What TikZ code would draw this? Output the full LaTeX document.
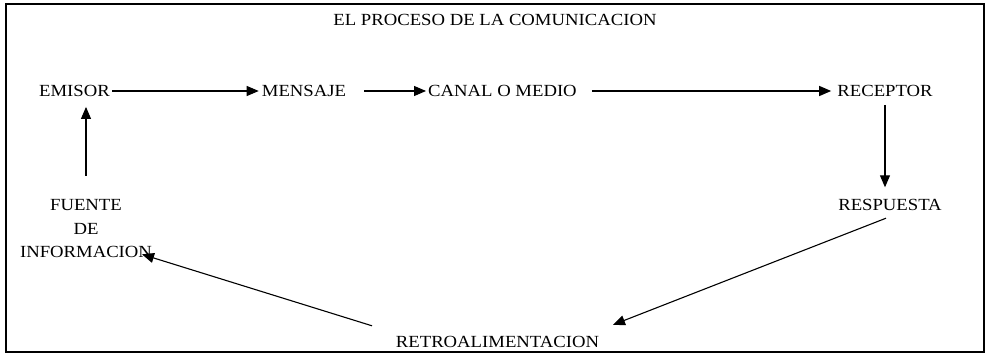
\documentclass[tikz,border=0pt]{standalone}
\usepackage{fontspec}
\setmainfont{Liberation Serif}[FakeStretch=1.1]
\usetikzlibrary{arrows.meta,positioning}
\tikzset{
  etiqueta/.style={inner sep=0pt,font=\fontsize{17}{23.5}\selectfont,text height=11.5pt,text depth=0pt},
  bloque/.style={inner sep=0pt,font=\fontsize{17}{23.5}\selectfont,align=center},
  flecha/.style={line width=1.1pt,-{Triangle[length=12pt,width=10pt]}}
}
\begin{document}
\begin{tikzpicture}[x=1pt,y=-1pt]
\useasboundingbox (0,0) rectangle (988,355);
\draw[line width=1.5pt] (6,4) rectangle (984,352);
\node[etiqueta] (titulo) at (495,20.25) {EL PROCESO DE LA COMUNICACION};
% fila de arriba
\node[etiqueta] (emisor) at (74.5,91) {EMISOR};
\node[etiqueta] (mensaje) at (304,91) {MENSAJE};
\node[etiqueta] (canal) at (502.5,91) {CANAL O MEDIO};
\node[etiqueta] (receptor) at (885,91) {RECEPTOR};
% abajo
\node[etiqueta] (respuesta) at (890,205.25) {RESPUESTA};
\node[etiqueta] (retro) at (497.5,342.25) {RETROALIMENTACION};
\node[bloque] (fuente) at (86,229) {FUENTE\\DE\\INFORMACION};
\draw[flecha,shorten <=2pt,shorten >=3pt] (emisor) -- (mensaje);
\draw[flecha,shorten <=18pt,shorten >=2pt] (mensaje) -- (canal);
\draw[flecha,shorten <=15pt,shorten >=6pt] (canal) -- (receptor);
\draw[flecha,shorten <=8pt,shorten >=12pt] (receptor.south) -- (receptor.south |- respuesta.north);
\draw[flecha] ([xshift=-4pt,yshift=-7pt]respuesta.south) -- ([xshift=115.5pt,yshift=11.5pt]retro.north);
\draw[flecha] ([xshift=-125.5pt,yshift=10.5pt]retro.north) -- ([xshift=56pt,yshift=4pt]fuente.south);
\draw[flecha,shorten <=24pt,shorten >=10pt] (fuente.north) -- (fuente.north |- emisor.south);
\end{tikzpicture}
\end{document}
